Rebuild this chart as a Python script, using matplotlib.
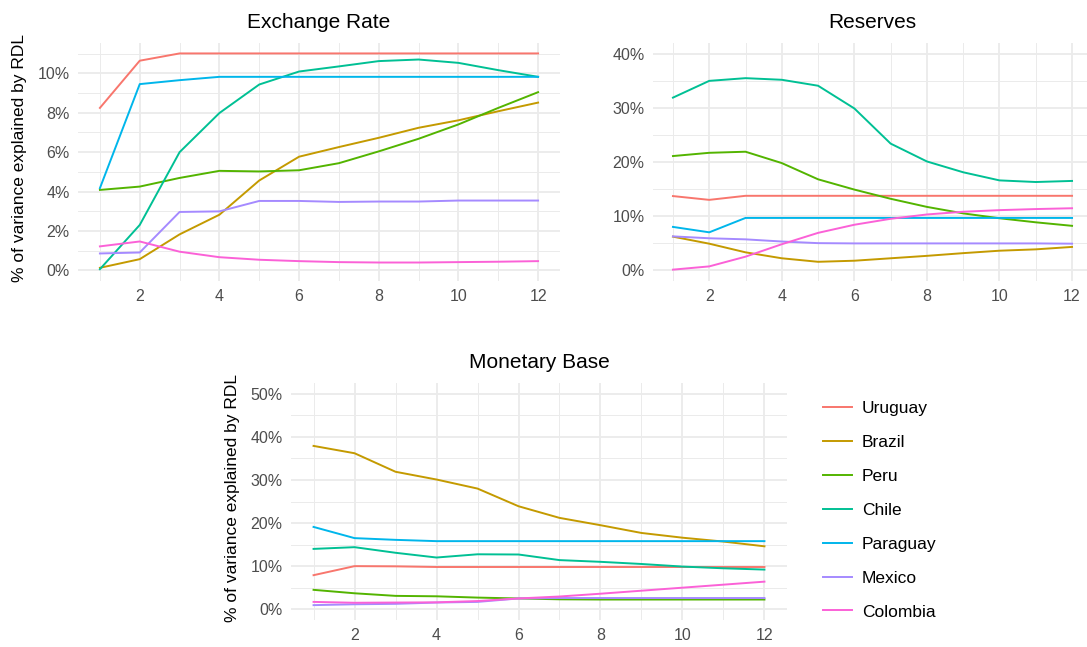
import matplotlib
matplotlib.use("Agg")
import matplotlib.pyplot as plt
from matplotlib.ticker import FuncFormatter, MultipleLocator

plt.rcParams['font.family'] = ['Liberation Sans', 'DejaVu Sans']

horizon = [1, 2, 3, 4, 5, 6, 7, 8, 9, 10, 11, 12]
countries = ["Uruguay", "Brazil", "Peru", "Chile", "Paraguay", "Mexico", "Colombia"]
colors = ["#F8766D", "#C49A00", "#53B400", "#00C094", "#00B6EB", "#A58AFF", "#FB61D7"]

# share of variance (%) by horizon
exch_uruguay = [8.25, 10.65, 11.02, 11.02, 11.02, 11.02, 11.02, 11.02, 11.02, 11.02, 11.02, 11.02]
exch_brazil = [0.12, 0.56, 1.82, 2.82, 4.56, 5.77, 6.26, 6.73, 7.24, 7.62, 8.08, 8.52]
exch_peru = [4.08, 4.25, 4.69, 5.05, 5.02, 5.08, 5.44, 6.04, 6.68, 7.41, 8.25, 9.05]
exch_chile = [0.05, 2.30, 6.00, 7.99, 9.44, 10.10, 10.36, 10.63, 10.71, 10.54, 10.17, 9.83]
exch_paraguay = [4.17, 9.46, 9.66, 9.83, 9.83, 9.83, 9.83, 9.83, 9.83, 9.83, 9.83, 9.83]
exch_mexico = [0.85, 0.90, 2.96, 2.99, 3.52, 3.52, 3.47, 3.49, 3.49, 3.54, 3.54, 3.54]
exch_colombia = [1.21, 1.46, 0.94, 0.66, 0.53, 0.46, 0.41, 0.39, 0.39, 0.41, 0.43, 0.46]

res_uruguay = [13.7, 13.0, 13.75, 13.75, 13.75, 13.75, 13.75, 13.75, 13.75, 13.75, 13.75, 13.75]
res_brazil = [6.2, 4.9, 3.3, 2.2, 1.55, 1.75, 2.2, 2.65, 3.15, 3.6, 3.85, 4.3]
res_peru = [21.1, 21.7, 21.9, 19.8, 16.8, 14.9, 13.2, 11.7, 10.5, 9.6, 8.85, 8.2]
res_chile = [31.9, 35.0, 35.5, 35.2, 34.1, 29.9, 23.4, 20.1, 18.1, 16.6, 16.3, 16.5]
res_paraguay = [8.0, 7.0, 9.66, 9.66, 9.66, 9.66, 9.66, 9.66, 9.66, 9.66, 9.66, 9.66]
res_mexico = [6.25, 5.9, 5.7, 5.3, 5.0, 4.95, 4.95, 4.95, 4.95, 4.95, 4.95, 4.9]
res_colombia = [0.1, 0.7, 2.5, 4.8, 6.9, 8.4, 9.5, 10.3, 10.8, 11.1, 11.3, 11.45]

mb_uruguay = [7.9, 10.0, 9.95, 9.8, 9.8, 9.8, 9.8, 9.8, 9.8, 9.8, 9.8, 9.8]
mb_brazil = [37.9, 36.2, 31.9, 30.1, 28.0, 23.9, 21.2, 19.5, 17.7, 16.6, 15.7, 14.6]
mb_peru = [4.5, 3.7, 3.1, 3.0, 2.7, 2.5, 2.3, 2.25, 2.25, 2.25, 2.25, 2.25]
mb_chile = [14.0, 14.4, 13.1, 12.0, 12.75, 12.7, 11.4, 11.0, 10.5, 9.9, 9.5, 9.2]
mb_paraguay = [19.1, 16.5, 16.1, 15.8, 15.8, 15.8, 15.8, 15.8, 15.8, 15.8, 15.8, 15.8]
mb_mexico = [0.95, 1.15, 1.25, 1.55, 1.7, 2.5, 2.6, 2.6, 2.6, 2.6, 2.6, 2.6]
mb_colombia = [1.7, 1.5, 1.55, 1.6, 1.9, 2.5, 2.95, 3.6, 4.3, 5.0, 5.7, 6.4]

exch = [exch_uruguay, exch_brazil, exch_peru, exch_chile, exch_paraguay, exch_mexico, exch_colombia]
res = [res_uruguay, res_brazil, res_peru, res_chile, res_paraguay, res_mexico, res_colombia]
mb = [mb_uruguay, mb_brazil, mb_peru, mb_chile, mb_paraguay, mb_mexico, mb_colombia]

W, H = 1087, 647
fig = plt.figure(figsize=(W / 100, H / 100), dpi=100)


def px_axes(left, top, right, bottom):
    return fig.add_axes([left / W, 1 - bottom / H, (right - left) / W, (bottom - top) / H])


def style(ax, title, major, minor):
    for s in ax.spines.values():
        s.set_visible(False)
    ax.set_xlim(1 - 0.55, 12 + 0.55)
    ax.xaxis.set_major_locator(MultipleLocator(2))
    ax.xaxis.set_minor_locator(MultipleLocator(1))
    ax.yaxis.set_major_locator(MultipleLocator(major))
    ax.yaxis.set_minor_locator(MultipleLocator(minor))
    ax.yaxis.set_major_formatter(FuncFormatter(lambda v, p: f"{v:.0f}%"))
    ax.grid(True, which="major", color="#EBEBEB", lw=1.3)
    ax.grid(True, which="minor", color="#EBEBEB", lw=0.7)
    ax.set_axisbelow(True)
    ax.tick_params(which="both", length=0, labelsize=11.5, labelcolor="#4D4D4D")
    ax.tick_params(axis="x", pad=6)
    ax.tick_params(axis="y", pad=6)
    ax.set_title(title, fontsize=15, pad=11)


ax1 = px_axes(78, 43, 560, 281)
ax2 = px_axes(653, 43, 1092, 281)
ax3 = px_axes(291, 383, 787, 620)

for ax, data in [(ax1, exch), (ax2, res), (ax3, mb)]:
    for name, vals, c in zip(countries, data, colors):
        ax.plot(horizon, vals, color=c, lw=1.4, label=name)

style(ax1, "Exchange Rate", 2, 1)
ax1.set_ylim(-0.55, 11.55)
style(ax2, "Reserves", 10, 5)
ax2.set_ylim(-2, 42)
style(ax3, "Monetary Base", 10, 5)
ax3.set_ylim(-2.5, 52.5)

ylab = "% of variance explained by RDL"
fig.text(20 / W, 1 - 158 / H, ylab, rotation=90, ha="center", va="center", fontsize=12.5)
fig.text(232 / W, 1 - 498 / H, ylab, rotation=90, ha="center", va="center", fontsize=12.5)

handles, labels = ax3.get_legend_handles_labels()
fig.legend(handles, labels, loc="upper left", bbox_to_anchor=(816 / W, 1 - 394 / H),
           frameon=False, fontsize=12.5, handlelength=1.65, labelspacing=1.08,
           handletextpad=0.6, borderaxespad=0)

fig.savefig("out.png", dpi=100)
